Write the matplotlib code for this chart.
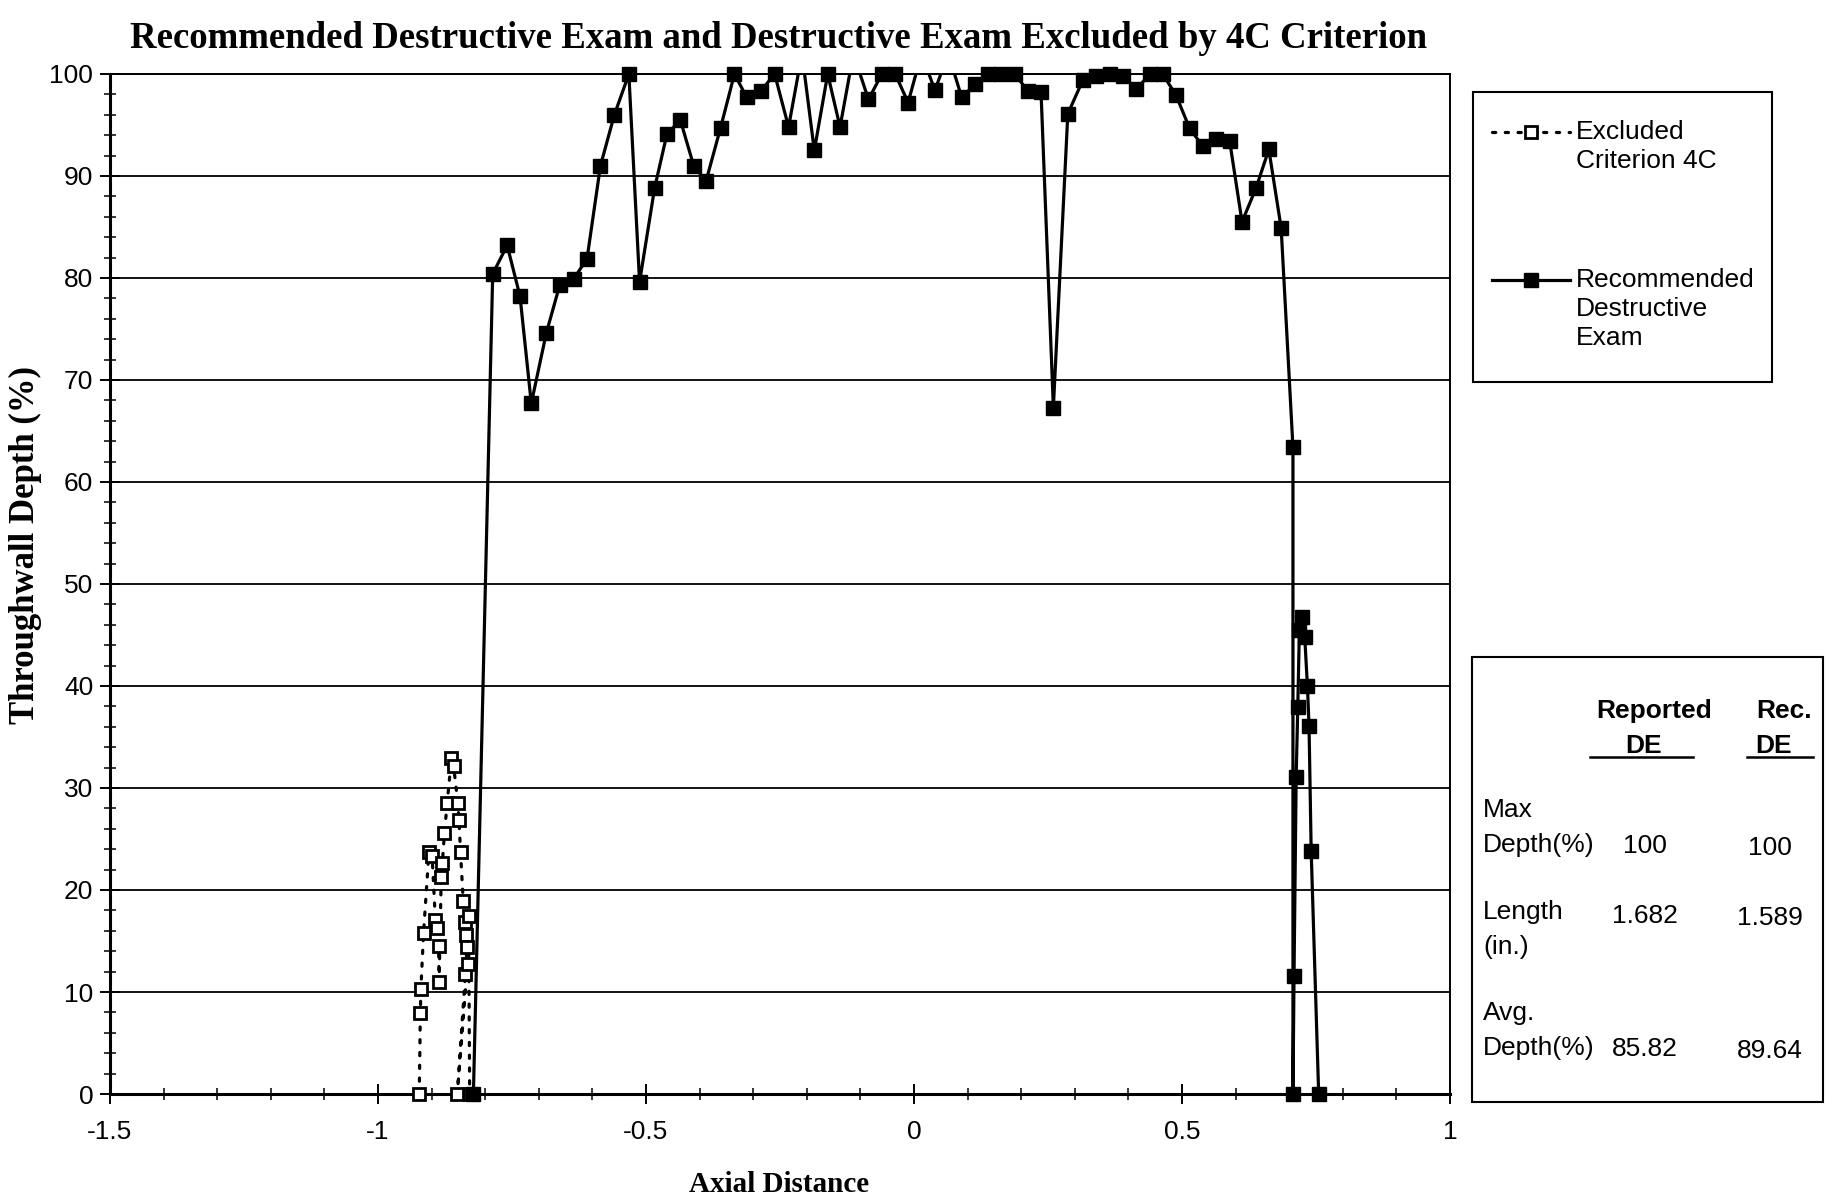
import matplotlib.pyplot as plt
from matplotlib.lines import Line2D
from matplotlib.patches import Rectangle
import numpy as np

W, H = 1829, 1197

# Recommended destructive exam: axial distance (in.) and throughwall depth (%)
# values above 100 are clipped by the axis (peaks without a marker)
rec_x = [-0.822, -0.786, -0.759, -0.735, -0.714, -0.686, -0.661, -0.635, -0.610, -0.585,
         -0.559, -0.532, -0.512, -0.484, -0.461, -0.436, -0.411, -0.388, -0.361, -0.335,
         -0.312, -0.286, -0.260, -0.234, -0.209, -0.186, -0.161, -0.138, -0.113, -0.085,
         -0.060, -0.035, -0.011, 0.014, 0.039, 0.064, 0.089, 0.114, 0.138, 0.163,
         0.188, 0.213, 0.237, 0.260, 0.287, 0.315, 0.340, 0.365, 0.390, 0.415,
         0.440, 0.464, 0.489, 0.514, 0.539, 0.564, 0.589, 0.612, 0.638, 0.662,
         0.685, 0.707, 0.707, 0.709, 0.713, 0.716, 0.719, 0.724, 0.729, 0.734,
         0.737, 0.741, 0.755]
rec_y = [0, 80.4, 83.2, 78.2, 67.7, 74.6, 79.3, 79.9, 81.9, 91.0,
         96.0, 100, 79.6, 88.8, 94.1, 95.5, 91.0, 89.5, 94.7, 100,
         97.7, 98.3, 100, 94.8, 102, 92.5, 100, 94.8, 102, 97.5,
         100, 100, 97.2, 102, 98.4, 102, 97.7, 99.0, 100, 100,
         100, 98.3, 98.2, 67.3, 96.1, 99.4, 99.8, 100, 99.8, 98.5,
         100, 100, 97.9, 94.7, 92.9, 93.6, 93.4, 85.5, 88.8, 92.6,
         84.9, 63.4, 0, 11.6, 31.1, 37.9, 45.5, 46.8, 44.8, 40.0,
         36.1, 23.8, 0]

# Destructive exam points excluded by criterion 4C
exc_x = [-0.923, -0.921, -0.920, -0.915, -0.905, -0.899, -0.893, -0.889, -0.887, -0.886,
         -0.882, -0.880, -0.876, -0.871, -0.863, -0.859, -0.851, -0.849, -0.846, -0.841,
         -0.838, -0.836, -0.834, -0.837, -0.852, -0.833, -0.831, -0.829]
exc_y = [0, 7.9, 10.3, 15.8, 23.7, 23.3, 17.1, 16.3, 14.5, 11.0,
         21.3, 22.6, 25.6, 28.5, 32.9, 32.2, 28.5, 26.9, 23.7, 18.9,
         16.9, 15.6, 14.4, 11.8, 0, 12.7, 17.5, 0]

title = "Recommended Destructive Exam and Destructive Exam Excluded by 4C Criterion"
x_ticks = [-1.5, -1, -0.5, 0, 0.5, 1]
x_tick_labels = ["-1.5", "-1", "-0.5", "0", "0.5", "1"]
y_ticks = [0, 10, 20, 30, 40, 50, 60, 70, 80, 90, 100]

legend_labels = [["Excluded", "Criterion 4C"], ["Recommended", "Destructive", "Exam"]]
col_heads = [["Reported", "DE"], ["Rec.", "DE"]]
row_heads = [["Max", "Depth(%)"], ["Length", "(in.)"], ["Avg.", "Depth(%)"]]
reported_vals = ["100", "1.682", "85.82"]
rec_vals = ["100", "1.589", "89.64"]

SANS = ["Liberation Sans", "DejaVu Sans"]
SERIF = ["Liberation Serif", "DejaVu Serif"]


def P(x, y):
    # full-image pixel -> figure fraction
    return x / W, 1 - y / H


fig = plt.figure(figsize=(W / 100, H / 100), dpi=100)
ax = fig.add_axes([110 / W, 1 - 1094 / H, (1450 - 110) / W, (1094 - 74) / H])

rx = np.array(rec_x)
ry = np.array(rec_y)
ax.plot(rx, ry, color="black", lw=2.3, zorder=4)
shown = ry <= 100
ax.plot(rx[shown], ry[shown], ls="none", marker="s", ms=10, mfc="black",
        mec="black", clip_on=False, zorder=5)
ax.plot(exc_x, exc_y, color="black", lw=2.3, ls=(0, (1, 3)), dash_capstyle="round",
        marker="s", ms=9, mfc="white", mec="black", mew=2, clip_on=False, zorder=3)

ax.set_xlim(-1.5, 1)
ax.set_ylim(0, 100)
ax.set_xticks(x_ticks)
ax.set_xticklabels(x_tick_labels)
ax.set_xticks(np.arange(-1.5, 1.001, 0.1), minor=True)
ax.set_yticks(y_ticks)
ax.set_yticks(np.arange(0, 101, 2), minor=True)
ax.tick_params(which="major", direction="inout", length=14, width=1.4,
               labelsize=19, pad=5)
ax.tick_params(which="minor", direction="inout", length=9, width=1.1)
ax.tick_params(axis="x", pad=12)
for lab in ax.get_xticklabels() + ax.get_yticklabels():
    lab.set_family(SANS)
ax.yaxis.grid(True, which="major", color="black", lw=1.3)
ax.set_axisbelow(True)
for s in ["top", "right"]:
    ax.spines[s].set_linewidth(1.4)
for s in ["left", "bottom"]:
    ax.spines[s].set_linewidth(2.2)

fig.text(*P(778, 39), title, ha="center", va="center", fontsize=26.5,
         fontweight="bold", family=SERIF)
fig.text(*P(779, 1184), "Axial Distance", ha="center", va="center", fontsize=21,
         fontweight="bold", family=SERIF)
fig.text(*P(25, 545), "Throughwall Depth (%)", ha="center", va="center", rotation=90,
         fontsize=25, fontweight="bold", family=SERIF)

# legend box
x0, y0 = P(1473, 382)
x1, y1 = P(1772, 92)
fig.add_artist(Rectangle((x0, y0), x1 - x0, y1 - y0, transform=fig.transFigure,
                         fill=False, ec="black", lw=1.5))
lx0, _ = P(1492, 0)
lx1, _ = P(1570, 0)
mx, _ = P(1531, 0)
for i, (ys, lines) in enumerate(zip([132, 280], legend_labels)):
    _, yy = P(0, ys)
    if i == 0:
        fig.add_artist(Line2D([lx0, lx1], [yy, yy], color="black", lw=2.3,
                              ls=(0, (1, 3)), dash_capstyle="round",
                              transform=fig.transFigure))
        fig.add_artist(Line2D([mx], [yy], marker="s", ms=9, mfc="white", mec="black",
                              mew=2, transform=fig.transFigure))
    else:
        fig.add_artist(Line2D([lx0, lx1], [yy, yy], color="black", lw=2.3,
                              transform=fig.transFigure))
        fig.add_artist(Line2D([mx], [yy], marker="s", ms=10, mfc="black", mec="black",
                              transform=fig.transFigure))
    for j, t in enumerate(lines):
        fig.text(*P(1576, ys + 29 * j), t, ha="left", va="center", fontsize=19,
                 family=SANS)

# summary table box
x0, y0 = P(1472, 1102)
x1, y1 = P(1823, 657)
fig.add_artist(Rectangle((x0, y0), x1 - x0, y1 - y0, transform=fig.transFigure,
                         fill=False, ec="black", lw=1.5))
col_x = [1654, 1784]
for cx, head, (ul0, ul1) in zip(col_x, col_heads, [(1590, 1693), (1747, 1813)]):
    fig.text(*P(cx, 711), head[0], ha="center", va="center", fontsize=19,
             fontweight="bold", family=SANS)
    fig.text(*P(cx - 10, 746), head[1], ha="center", va="center", fontsize=19,
             fontweight="bold", family=SANS)
    _, uy = P(0, 757)
    fig.add_artist(Line2D([ul0 / W, ul1 / W], [uy, uy], color="black", lw=1.8,
                          transform=fig.transFigure))
row_y = [810, 912, 1013]
for ry0, head, v1, v2 in zip(row_y, row_heads, reported_vals, rec_vals):
    for j, t in enumerate(head):
        fig.text(*P(1483, ry0 + 35 * j), t, ha="left", va="center", fontsize=19,
                 family=SANS)
    vy = ry0 + 36 if head[1] != "(in.)" else ry0 + 4
    fig.text(*P(1645, vy), v1, ha="center", va="center", fontsize=19, family=SANS)
    fig.text(*P(1770, vy + 2), v2, ha="center", va="center", fontsize=19, family=SANS)

fig.savefig("out.png", dpi=100, facecolor="white")
